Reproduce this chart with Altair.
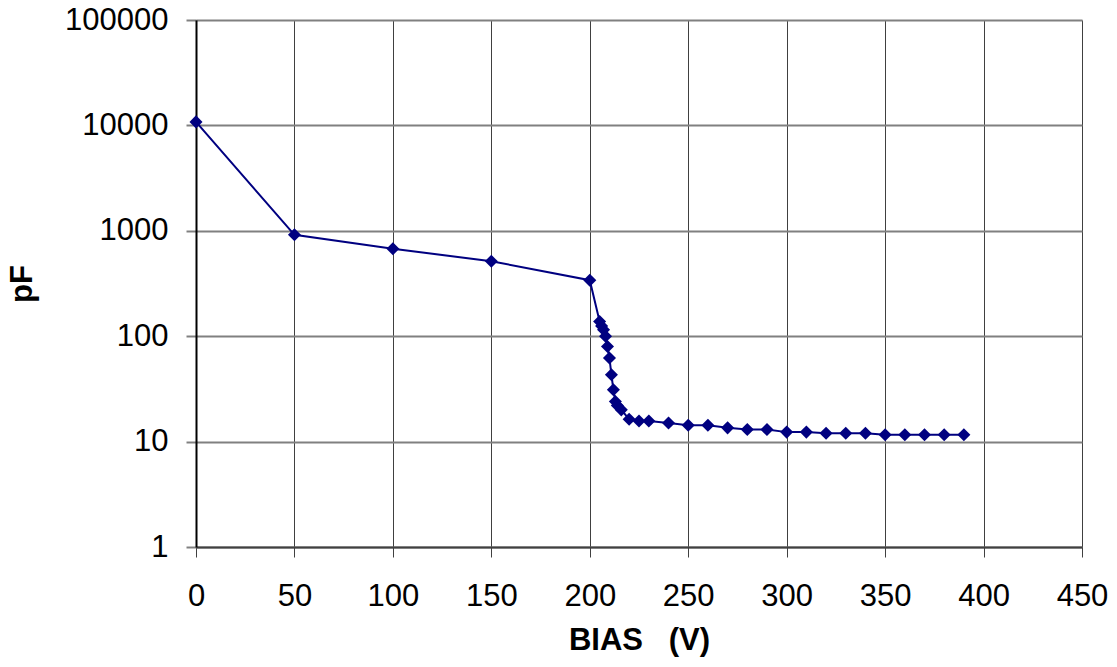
import altair as alt
import pandas as pd

bias = [0, 50, 100, 150, 200, 205, 206, 207, 208, 209, 210, 211, 212, 213, 214, 216,
        220, 225, 230, 240, 250, 260, 270, 280, 290, 300, 310, 320, 330, 340, 350,
        360, 370, 380, 390]
pf = [10800, 916, 675, 515, 340, 138, 125, 115, 100, 80, 62, 43, 31, 24, 22, 20,
      16.3, 15.7, 15.7, 15.0, 14.3, 14.3, 13.5, 13.0, 13.0, 12.3, 12.3, 12.0, 12.0,
      12.0, 11.6, 11.6, 11.6, 11.6, 11.6]

x_ticks = [0, 50, 100, 150, 200, 250, 300, 350, 400, 450]
y_ticks = [1, 10, 100, 1000, 10000, 100000]

df = pd.DataFrame({"bias": bias, "pf": pf})

FONT = "Liberation Sans"
FS = 31

x_enc = alt.X("bias:Q",
              scale=alt.Scale(domain=[0, 450], nice=False, zero=False),
              axis=alt.Axis(values=x_ticks, title="BIAS\u00a0\u00a0\u00a0(V)", format="d",
                            grid=True, gridColor="#404040", gridWidth=1,
                            domainColor="#404040", domainWidth=2,
                            tickColor="#404040", tickSize=10, tickWidth=1,
                            labelFontSize=FS, labelFont=FONT, labelColor="black",
                            labelPadding=24, labelFlush=False, labelOverlap=False,
                            titleFont=FONT, titleFontSize=FS, titleFontWeight="bold",
                            titleColor="black", titlePadding=14))
y_enc = alt.Y("pf:Q",
              scale=alt.Scale(type="log", domain=[1, 100000], nice=False),
              axis=alt.Axis(values=y_ticks, title="pF", format="d",
                            grid=True, gridColor="#808080", gridWidth=2,
                            domainColor="black", domainWidth=2,
                            tickColor="#808080", tickSize=10, tickWidth=2,
                            labelFontSize=FS, labelFont=FONT, labelColor="black",
                            labelPadding=18, labelFlush=False, labelOverlap=False,
                            titleFont=FONT, titleFontSize=FS, titleFontWeight="bold",
                            titleColor="black", titlePadding=26))

base = alt.Chart(df)
line = base.mark_line(color="#000080", strokeWidth=2).encode(x=x_enc, y=y_enc)
pts = base.mark_point(shape="diamond", filled=True, color="#000080", size=170,
                      opacity=1).encode(x=x_enc, y=y_enc)

chart = alt.layer(line, pts).properties(
    width=886, height=527,
    autosize=alt.AutoSizeParams(type="none"),
    padding={"left": 188, "top": 12, "right": 26, "bottom": 110},
).configure_view(stroke="#808080", strokeWidth=2).configure(background="white")

chart.save("out.html", embed_options={"renderer": "svg", "actions": False})
